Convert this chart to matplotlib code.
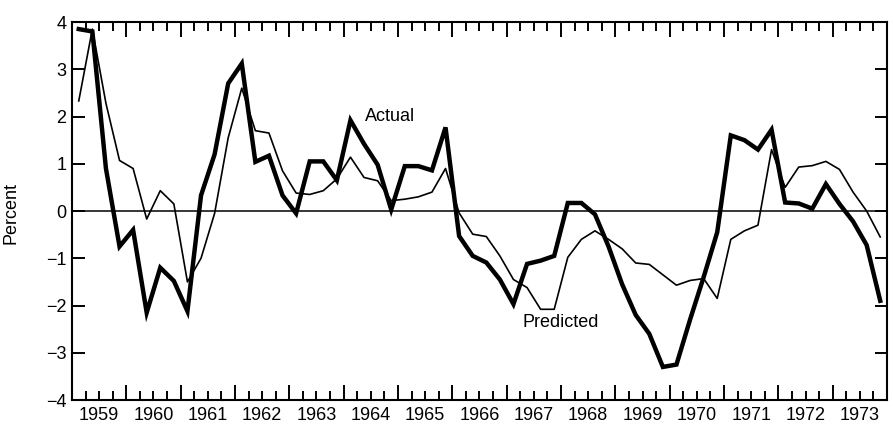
import numpy as np
import matplotlib
matplotlib.use("Agg")
import matplotlib.pyplot as plt
from matplotlib.ticker import FixedLocator, FixedFormatter

plt.rcParams["font.family"] = ["Liberation Sans", "DejaVu Sans"]
plt.rcParams["font.size"] = 13

# Quarterly values, 1959Q1 - 1973Q4 (percent)
years = list(range(1959, 1974))

actual = [
    3.85, 3.80, 0.90, -0.75,    # 1959
    -0.40, -2.15, -1.20, -1.48,  # 1960
    -2.12, 0.33, 1.20, 2.70,    # 1961
    3.12, 1.04, 1.17, 0.33,     # 1962
    -0.05, 1.05, 1.05, 0.65,    # 1963
    1.92, 1.42, 0.98, 0.03,     # 1964
    0.95, 0.95, 0.86, 1.77,     # 1965
    -0.53, -0.95, -1.09, -1.45,  # 1966
    -1.97, -1.12, -1.05, -0.95,  # 1967
    0.17, 0.17, -0.07, -0.75,   # 1968
    -1.55, -2.20, -2.60, -3.30,  # 1969
    -3.25, -2.30, -1.40, -0.45,  # 1970
    1.60, 1.50, 1.30, 1.72,     # 1971
    0.18, 0.16, 0.05, 0.57,     # 1972
    0.15, -0.22, -0.72, -1.90,  # 1973
]

predicted = [
    2.33, 3.85, 2.28, 1.07,     # 1959
    0.90, -0.17, 0.43, 0.15,    # 1960
    -1.50, -1.00, -0.05, 1.55,  # 1961
    2.60, 1.70, 1.65, 0.85,     # 1962
    0.38, 0.35, 0.43, 0.68,     # 1963
    1.14, 0.71, 0.64, 0.22,     # 1964
    0.25, 0.30, 0.40, 0.90,     # 1965
    -0.04, -0.49, -0.54, -0.95,  # 1966
    -1.45, -1.62, -2.08, -2.08,  # 1967
    -0.98, -0.60, -0.42, -0.60,  # 1968
    -0.80, -1.10, -1.13, -1.35,  # 1969
    -1.57, -1.47, -1.43, -1.85,  # 1970
    -0.60, -0.42, -0.30, 1.30,  # 1971
    0.50, 0.93, 0.96, 1.05,     # 1972
    0.88, 0.40, 0.00, -0.55,    # 1973
]

# x position = middle of each quarter
x = years[0] + (np.arange(len(actual)) + 0.5) / 4

fig = plt.figure(figsize=(8.93, 4.34), dpi=100)
ax = fig.add_axes([0.0806, 0.0783, 0.9127, 0.871])

ax.axhline(0, color="black", lw=1.1, zorder=1)
ax.plot(x, predicted, color="black", lw=1.2, zorder=2)
ax.plot(x, actual, color="black", lw=3.2, zorder=3, solid_joinstyle="miter")

ax.set_xlim(years[0], years[-1] + 1)
ax.set_ylim(-4, 4)

# year boundaries = long ticks, quarters = short ticks, labels in middle of year
ax.xaxis.set_major_locator(FixedLocator(list(range(years[0], years[-1] + 2))))
ax.xaxis.set_major_formatter(FixedFormatter([""] * (len(years) + 1)))
quarter_pos = [y + q / 4 for y in years for q in (1, 2, 3)]
quarter_lab = [str(y) if q == 2 else "" for y in years for q in (1, 2, 3)]
ax.xaxis.set_minor_locator(FixedLocator(quarter_pos))
ax.xaxis.set_minor_formatter(FixedFormatter(quarter_lab))

ax.set_yticks(range(-4, 5))
ax.set_yticklabels([str(v).replace("-", "\u2212") for v in range(-4, 5)])

ax.tick_params(axis="x", which="major", direction="in", length=11, width=1.4,
               top=True, bottom=True)
ax.tick_params(axis="x", which="minor", direction="in", length=6.5, width=1.4,
               top=True, bottom=True, pad=5, labelsize=13)
ax.tick_params(axis="y", which="major", direction="in", length=9, width=1.4,
               left=True, right=True, pad=4, labelsize=13)

for s in ax.spines.values():
    s.set_linewidth(1.5)

ax.set_ylabel("Percent", fontsize=13)
ax.yaxis.set_label_coords(-0.064, 0.495)

ax.text(1964.39, 2.01, "Actual", fontsize=13, va="center", ha="left")
ax.text(1967.30, -2.35, "Predicted", fontsize=13, va="center", ha="left")

fig.savefig("out.png", dpi=100)
